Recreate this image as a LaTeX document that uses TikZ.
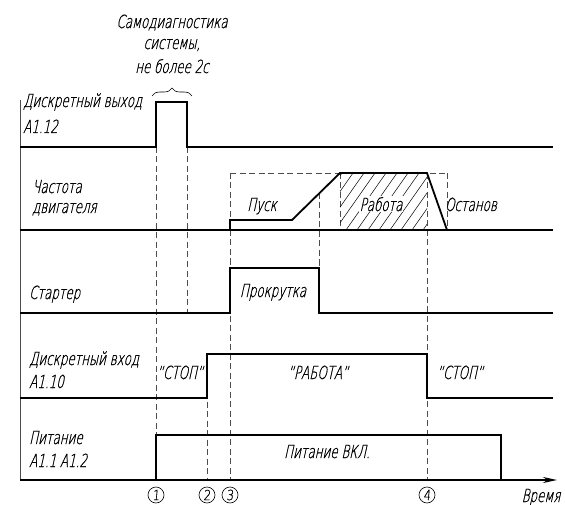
\documentclass[tikz,border=0pt]{standalone}
\usepackage{fontspec}
\setmainfont{DejaVuSans-ExtraLight.ttf}[FakeSlant=0.22,FakeStretch=0.66,FakeBold=0.7]
\newfontfamily\numfont{DejaVuSans-ExtraLight.ttf}[FakeSlant=0.1,FakeStretch=0.8,FakeBold=0.7]
\usetikzlibrary{arrows.meta,decorations.pathreplacing}
\newcommand{\gostsize}{\fontsize{18}{20}\selectfont}
\begin{document}
\begin{tikzpicture}[x=1pt,y=-1pt,
  sig/.style={line width=1.8pt, line join=miter},
  dsh/.style={line width=0.7pt, dash pattern=on 6pt off 3.5pt, black!70},
  lbl/.style={inner sep=0pt, anchor=base west, font=\gostsize},
  txt/.style={inner sep=0pt, anchor=base, font=\gostsize},
  num/.style={circle, draw, line width=0.6pt, minimum size=16pt, inner sep=0pt, font=\numfont\fontsize{14}{14}\selectfont}
]
\useasboundingbox (0,0) rectangle (565,505);

% vertical axis
\draw[line width=0.6pt, black!70] (20,100) -- (20,480);

% dashed guide lines
\draw[dsh] (156,147) -- (156,480);
\draw[dsh] (187,147) -- (187,313);
\draw[dsh] (207,354) -- (207,480);
\draw[dsh] (230,173) -- (230,480);
\draw[dsh] (319,193) -- (319,313);
\draw[dsh] (340,173) -- (340,230);
\draw[dsh] (427,173) -- (427,480);
\draw[dsh] (447,173) -- (447,230);
\draw[dsh] (230,173) -- (447,173);

% hatching of working zone
\begin{scope}
  \clip (340,173) rectangle (427,230);
  \foreach \x in {280,291,...,440} \draw[line width=0.5pt] (\x,230) -- (\x+40,173);
\end{scope}

% row 1: discrete output A1.12
\draw[sig] (20,147) -- (156,147) -- (156,102) -- (187,102) -- (187,147) -- (553,147);
% row 2: engine frequency
\draw[sig] (20,230) -- (553,230);
\draw[sig] (230,230) -- (230,220) -- (292,220) -- (340,173) -- (427,173) -- (447,230);
% row 3: starter
\draw[sig] (20,313) -- (230,313) -- (230,268) -- (319,268) -- (319,313) -- (553,313);
% row 4: discrete input A1.10
\draw[sig] (20,398) -- (207,398) -- (207,354) -- (427,354) -- (427,398) -- (553,398);
% row 5: power
\draw[sig] (156,480) -- (156,435) -- (501,435) -- (501,480);
\draw[sig, -{Stealth[length=14pt,width=6pt]}] (20,480) -- (557,480);

% brace
\draw[decorate, decoration={brace, amplitude=8pt}, line width=0.6pt] (152,96) -- (192,96);

% top text
\node[txt] (t1) at (172,28) {Самодиагностика};
\node[txt] (t2) at (172,49) {системы,};
\node[txt] (t3) at (172,73) {не более 2с};

% row labels
\node[lbl] (l1a) at (23,107) {Дискретный выход};
\node[lbl] (l1b) at (23,133) {A1.12};
\node[lbl] (l2a) at (32,193) {Частота};
\node[lbl] (l2b) at (32,213) {двигателя};
\node[lbl] (l3) at (29,299) {Стартер};
\node[lbl] (l4a) at (29,365) {Дискретный вход};
\node[lbl] (l4b) at (29,388) {A1.10};
\node[lbl] (l5a) at (29,444) {Питание};
\node[lbl] (l5b) at (29,467) {A1.1 A1.2};

% in-diagram labels
\node[txt] (pusk) at (262,211) {Пуск};
\node[txt, fill=white, inner sep=1pt] (rab) at (381,211) {Работа};
\node[txt] (ost) at (471,211) {Останов};
\node[txt] (prok) at (273,297) {Прокрутка};
\node[txt] (stop1) at (180,379) {"СТОП"};
\node[txt] (rabota) at (318,379) {"РАБОТА"};
\node[txt] (stop2) at (460,379) {"СТОП"};
\node[txt] (pvkl) at (327,458) {Питание ВКЛ.};

% time marks
\node[num] (n1) at (156,495) {1};
\node[num] (n2) at (207,495) {2};
\node[num] (n3) at (230,495) {3};
\node[num] (n4) at (427,495) {4};
\node[txt] (time) at (541,502) {Время};
\end{tikzpicture}
\end{document}
